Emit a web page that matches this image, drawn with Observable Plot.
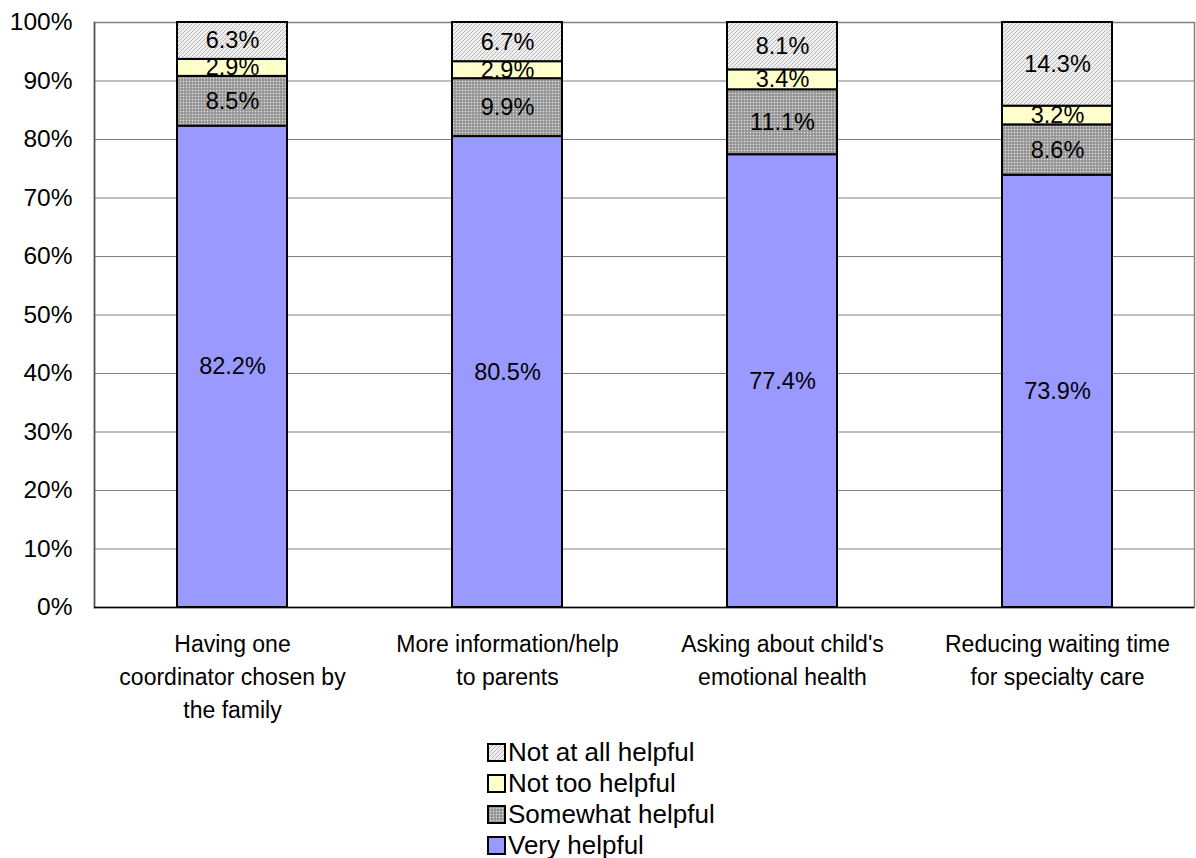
<!DOCTYPE html>
<html>
<head>
<meta charset="utf-8">
<script src="https://cdn.jsdelivr.net/npm/d3@7"></script>
<script src="https://cdn.jsdelivr.net/npm/@observablehq/plot@0.6"></script>
<style>
  html, body { margin: 0; padding: 0; background: #fff; }
  body { font-family: "Liberation Sans", Arial, sans-serif; width: 1196px; height: 858px; overflow: hidden; position: relative; }
  #legend { padding-left: 487px; padding-top: 2px; font-size: 26px; color: #000; }
  .item { height: 31px; display: flex; align-items: center; }
  .item svg { margin-right: 2px; }
</style>
</head>
<body>
<svg width="0" height="0" style="position:absolute">
  <defs>
    <pattern id="hatch" width="4" height="4" patternUnits="userSpaceOnUse">
      <rect width="4" height="4" fill="#efefef"/>
      <path d="M-1,1 L1,-1 M0,4 L4,0 M3,5 L5,3" stroke="#b4b4b4" stroke-width="0.9"/>
    </pattern>
    <pattern id="dots" width="3" height="3" patternUnits="userSpaceOnUse">
      <rect width="3" height="3" fill="#a4a4a4"/>
      <rect x="0" y="0" width="1" height="1" fill="#e0e0e0"/>
      <rect x="1.5" y="1.5" width="1" height="1" fill="#6a6a6a"/>
    </pattern>
  </defs>
</svg>
<div id="chart"></div>
<div id="legend"></div>
<script>
const categories = [
  "Having one\ncoordinator chosen by\nthe family",
  "More information/help\nto parents",
  "Asking about child's\nemotional health",
  "Reducing waiting time\nfor specialty care"
];
const levels = ["Very helpful", "Somewhat helpful", "Not too helpful", "Not at all helpful"];
const veryHelpful     = [82.2, 80.5, 77.4, 73.9];
const somewhatHelpful = [8.5, 9.9, 11.1, 8.6];
const notTooHelpful   = [2.9, 2.9, 3.4, 3.2];
const notAtAllHelpful = [6.3, 6.7, 8.1, 14.3];
const yTicks = [0, 0.1, 0.2, 0.3, 0.4, 0.5, 0.6, 0.7, 0.8, 0.9, 1];

const series = [veryHelpful, somewhatHelpful, notTooHelpful, notAtAllHelpful];
const fills = {
  "Very helpful": "#9999ff",
  "Somewhat helpful": "url(#dots)",
  "Not too helpful": "#ffffcc",
  "Not at all helpful": "url(#hatch)"
};

const data = [];
categories.forEach((c, i) => {
  levels.forEach((l, j) => {
    data.push({category: c, level: l, value: series[j][i]});
  });
});

const chart = Plot.plot({
  width: 1196,
  height: 735,
  marginTop: 22,
  marginBottom: 128,
  marginLeft: 94,
  marginRight: 2,
  style: {fontFamily: '"Liberation Sans", Arial, sans-serif', fontSize: "22px", color: "#000", background: "#fff"},
  x: {domain: categories, paddingInner: 0.6, paddingOuter: 0.3, label: null},
  y: {domain: [0, 1], label: null},
  color: {type: "identity"},
  marks: [
    Plot.gridY(yTicks, {stroke: "#808080", strokeOpacity: 1, strokeWidth: 1.2}),
    Plot.frame({stroke: "#808080", strokeWidth: 1.5}),
    Plot.barY(data, Plot.stackY({
      offset: "normalize",
      x: "category", y: "value", z: "level", order: levels,
      fill: d => fills[d.level],
      stroke: "#000", strokeWidth: 2
    })),
    Plot.text(data, Plot.stackY({
      offset: "normalize",
      x: "category", y: "value", z: "level", order: levels,
      text: d => d.value.toFixed(1) + "%",
      fill: "#000", fontSize: 23.5
    })),
    Plot.frame({anchor: "left", stroke: "#505050", strokeWidth: 1.5}),
    Plot.ruleY([0], {stroke: "#000", strokeWidth: 1.5}),
    Plot.axisY(yTicks, {tickFormat: d => Math.round(d * 100) + "%", tickSize: 0, tickPadding: 22, fontSize: 24.5, label: null}),
    Plot.axisX({tickSize: 0, tickPadding: 21, fontSize: 23, lineHeight: 1.44, label: null})
  ]
});
document.getElementById("chart").appendChild(chart);

const legend = document.getElementById("legend");
[...levels].reverse().forEach(l => {
  const item = document.createElement("div");
  item.className = "item";
  item.innerHTML = `<svg width="19" height="19"><rect x="1" y="1" width="17" height="17" fill="${fills[l]}" stroke="#000" stroke-width="2"/></svg><span>${l}</span>`;
  legend.appendChild(item);
});
</script>
</body>
</html>
